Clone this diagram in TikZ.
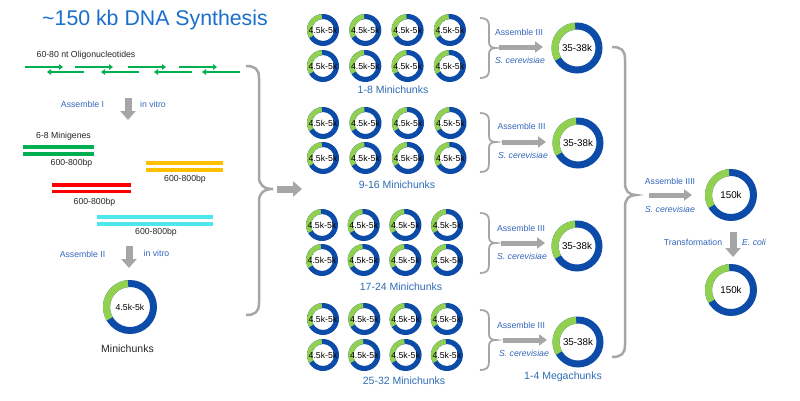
\documentclass[tikz,border=0pt]{standalone}
\usepackage{fontspec}
\setmainfont{Liberation Sans}
\usetikzlibrary{arrows.meta}
\definecolor{ringblue}{HTML}{0D4BA8}
\definecolor{ringgreen}{HTML}{92D050}
\definecolor{oligo}{HTML}{00B050}
\definecolor{barY}{HTML}{FFC000}
\definecolor{barR}{HTML}{FF0000}
\definecolor{barC}{HTML}{4DE8EC}
\definecolor{titleblue}{HTML}{1A6ECC}
\definecolor{lblblue}{HTML}{3366BB}
\definecolor{grpblue}{HTML}{2E6DB4}
\definecolor{darktext}{HTML}{262626}
\definecolor{braceg}{HTML}{A6A6A6}
\newcommand\ringnode[7]{%
  \fill[ringblue,even odd rule] (#2,#3) circle[radius=#4pt] circle[radius=#5pt];
  \fill[ringgreen] ([shift={(95:#4pt)}]#2,#3) arc[start angle=95,end angle=210,radius=#4pt]
     -- ([shift={(210:#5pt)}]#2,#3) arc[start angle=210,end angle=95,radius=#5pt] -- cycle;
  \node[#6] (#1) at (#2,#3) {#7};}
\newcommand\smallbrk[4]{% name, top, tip, bottom
  \draw[brk] (480,#2) .. controls (486,#2) and (489,{#2+2}) .. (489,{#2+8})
     -- (489,{#3-6}) .. controls (489,{#3-2}) and (491,#3) .. (496,#3) coordinate (#1)
     .. controls (491,#3) and (489,{#3+2}) .. (489,{#3+6})
     -- (489,{#4-8}) .. controls (489,{#4-2}) and (486,#4) .. (480,#4);}
\begin{document}
\begin{tikzpicture}[x=1pt,y=-1pt,
  txt/.style={font=\fontsize{8.7}{10}\selectfont, text=darktext, inner sep=0},
  bluetxt/.style={font=\fontsize{8.7}{10}\selectfont, text=lblblue, inner sep=0},
  itblue/.style={font=\fontsize{8.7}{10}\selectfont\itshape, text=lblblue, inner sep=0},
  grouplbl/.style={font=\fontsize{10.5}{12}\selectfont, text=grpblue, inner sep=0},
  ringsmall/.style={font=\fontsize{8.7}{10}\selectfont, text=black, inner sep=0},
  ringbig/.style={font=\fontsize{9.8}{11}\selectfont, text=black, inner sep=0},
  oarrow/.style={oligo, line width=2.6pt, -{Triangle[length=4pt,width=5.5pt]}},
  bar/.style={line width=3.6pt},
  garrow/.style={braceg, line width=5pt, -{Triangle[length=8pt,width=11pt]}},
  bigarrow/.style={braceg, line width=7pt, -{Triangle[length=9pt,width=15pt]}},
  brk/.style={braceg, line width=1.8pt},
  bigbrace/.style={braceg, line width=2.5pt}]
\fill[white] (0,0) rectangle (800,400);
\useasboundingbox (0,0) rectangle (800,400);

% title
\node[font=\fontsize{21.3}{24}\selectfont, text=titleblue, inner sep=0] (title) at (155,20) {\char`~150 kb DNA Synthesis};

% oligonucleotides
\node[txt] (oligolbl) at (86,55) {60-80 nt Oligonucleotides};
\draw[oarrow] (25,67) -- (63,67);
\draw[oarrow] (75,67) -- (113,67);
\draw[oarrow] (128,67) -- (166,67);
\draw[oarrow] (179,67) -- (217,67);
\draw[oarrow] (84,72) -- (47,72);
\draw[oarrow] (139,72) -- (101,72);
\draw[oarrow] (192,72) -- (154,72);
\draw[oarrow] (240,72) -- (202,72);

% assemble I
\node[bluetxt] (as1) at (82.5,104) {Assemble I};
\node[bluetxt] (iv1) at (153,104) {in vitro};
\coordinate (d1s) at (128,98);
\coordinate (d1e) at (128,120);
\draw[bigarrow] (d1s) -- (d1e);

% minigenes
\node[txt] (mglbl) at (63.5,136) {6-8 Minigenes};
\draw[bar,oligo] (23,147) -- (94,147);
\draw[bar,oligo] (23,154) -- (94,154);
\node[txt] (bp1) at (71.5,163) {600-800bp};
\draw[bar,barY] (146,163) -- (223,163);
\draw[bar,barY] (146,170) -- (223,170);
\node[txt] (bp2) at (185,179) {600-800bp};
\draw[bar,barR] (52,185) -- (131,185);
\draw[bar,barR] (52,191.5) -- (131,191.5);
\node[txt] (bp3) at (94.5,202) {600-800bp};
\draw[bar,barC] (97,217) -- (213,217);
\draw[bar,barC] (97,224) -- (213,224);
\node[txt] (bp4) at (156,232) {600-800bp};

% assemble II
\node[bluetxt] (as2) at (82.5,254) {Assemble II};
\node[bluetxt] (iv2) at (156.5,253) {in vitro};
\coordinate (d2s) at (129,246);
\coordinate (d2e) at (129,268);
\draw[bigarrow] (d2s) -- (d2e);
\ringnode{mini}{130}{307}{27}{20}{ringsmall}{4.5k-5k}
\node[font=\fontsize{10.5}{12}\selectfont, text=darktext, inner sep=0] (minilbl) at (127.5,349) {Minichunks};

% left brace and arrow
\draw[bigbrace] (246,66) .. controls (255,66) and (259,69) .. (259,78) -- (259,177)
   .. controls (259,185) and (264,189) .. (273,189) coordinate (lbtip)
   .. controls (264,189) and (259,193) .. (259,201) -- (259,303)
   .. controls (259,312) and (255,315) .. (246,315);
\coordinate (la1) at (277,189);
\coordinate (la2) at (302,189);
\draw[bigarrow] (la1) -- (la2);

% minichunk groups
\foreach \g/\ya/\yb/\xs/\dx in {1/30/66/323/42.3, 2/123/158/323/42.5, 3/225/260/322/41.7, 4/319/355/323/41.3}{
  \foreach \c in {0,...,3}{
    \pgfmathsetmacro\xx{\xs+\c*\dx}
    \ringnode{g\g a\c}{\xx}{\ya}{16}{11}{ringsmall}{4.5k-5k}
    \ringnode{g\g b\c}{\xx}{\yb}{16}{11}{ringsmall}{4.5k-5k}
  }
}
\node[grouplbl] (gl1) at (393,90) {1-8 Minichunks};
\node[grouplbl] (gl2) at (397,185) {9-16 Minichunks};
\node[grouplbl] (gl3) at (401,287) {17-24 Minichunks};
\node[grouplbl] (gl4) at (404,381) {25-32 Minichunks};

% brackets, assemble III
\smallbrk{bk1}{18}{48}{78}
\smallbrk{bk2}{113}{142}{172}
\smallbrk{bk3}{213}{243}{273}
\smallbrk{bk4}{310}{340}{370}

\node[bluetxt] (a31) at (519,32) {Assemble III};
\node[itblue] (s31) at (520,60) {S. cerevisiae};
\coordinate (a31s) at (499,47); \coordinate (a31e) at (543,47);
\draw[garrow] (a31s) -- (a31e);
\node[bluetxt] (a32) at (521.5,126) {Assemble III};
\node[itblue] (s32) at (523,155) {S. cerevisiae};
\coordinate (a32s) at (502,142); \coordinate (a32e) at (546,142);
\draw[garrow] (a32s) -- (a32e);
\node[bluetxt] (a33) at (521,228) {Assemble III};
\node[itblue] (s33) at (522,256) {S. cerevisiae};
\coordinate (a33s) at (501,243); \coordinate (a33e) at (545,243);
\draw[garrow] (a33s) -- (a33e);
\node[bluetxt] (a34) at (521,325) {Assemble III};
\node[itblue] (s34) at (524,353) {S. cerevisiae};
\coordinate (a34s) at (503,340); \coordinate (a34e) at (547,340);
\draw[garrow] (a34s) -- (a34e);

\ringnode{mega1}{577}{48}{25.5}{18.5}{ringbig}{35-38k}
\ringnode{mega2}{578}{143}{25.5}{18.5}{ringbig}{35-38k}
\ringnode{mega3}{577}{246}{25.5}{18.5}{ringbig}{35-38k}
\ringnode{mega4}{578}{342}{25.5}{18.5}{ringbig}{35-38k}
\node[grouplbl] (megalbl) at (563,377) {1-4 Megachunks};

% right brace
\draw[bigbrace] (612,47) .. controls (621,47) and (625,50) .. (625,59) -- (625,183)
   .. controls (625,191) and (629,195) .. (636,195) coordinate (rbtip)
   .. controls (629,195) and (625,199) .. (625,207) -- (625,345)
   .. controls (625,354) and (621,357) .. (612,357);

\node[bluetxt] (a4) at (670,181) {Assemble IIII};
\node[itblue] (s4) at (670,209) {S. cerevisiae};
\coordinate (a4s) at (649,195); \coordinate (a4e) at (692,195);
\draw[garrow] (a4s) -- (a4e);
\ringnode{full1}{731}{195}{26}{19}{ringbig}{150k}
\node[bluetxt] (tr) at (693,242) {Transformation};
\node[itblue] (ec) at (754,242) {E. coli};
\coordinate (d3s) at (733,232); \coordinate (d3e) at (733,257);
\draw[bigarrow] (d3s) -- (d3e);
\ringnode{full2}{731}{290}{26}{19}{ringbig}{150k}
\end{tikzpicture}
\end{document}
